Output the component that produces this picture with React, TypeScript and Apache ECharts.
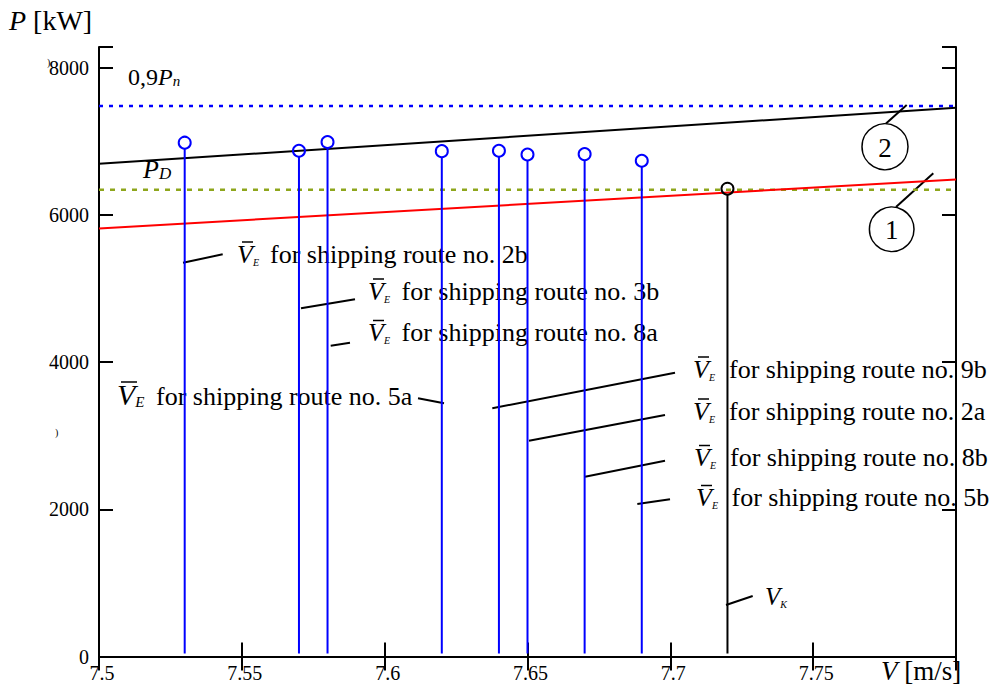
import React, { useEffect, useRef } from 'react';
import * as echarts from 'echarts';

// ---------- data ----------
const X_MIN = 7.5;
const X_MAX = 7.8;
const X_STEP = 0.05;
const Y_MIN = 0;
const Y_MAX = 8280;
const Y_STEP = 2000;

const routeSpeeds = [7.53, 7.57, 7.58, 7.62, 7.64, 7.65, 7.67, 7.69];
const routePowers = [6980, 6870, 6990, 6865, 6870, 6820, 6825, 6735];
const vkSpeeds = [7.72];
const vkPowers = [6355];
const curveSpeeds = [7.5, 7.8];
const curve1Powers = [5816, 6481];
const curve2Powers = [6693, 7455];
const pnLevel = [7480];
const pdLevel = [6340];
const routeNames = ['2b', '3b', '8a', '5a', '9b', '2a', '8b', '5b'];

// ---------- annotation layout (pixels) ----------
const SERIF = '"Liberation Serif", "Times New Roman", serif';
const routeLayout = [
  { vx: 237, tx: 270, base: 263, big: false, lead: [183, 262.7, 222.7, 254.3] },
  { vx: 368, tx: 401.5, base: 300, big: false, lead: [301, 308.3, 355, 299.3] },
  { vx: 368, tx: 401.5, base: 341.5, big: false, lead: [330.7, 345.7, 350, 342.7] },
  { vx: 117, tx: 156, base: 405, big: true, lead: [418, 398.3, 444, 403.3] },
  { vx: 693, tx: 729, base: 378, big: false, lead: [492.3, 408.3, 675, 372.7] },
  { vx: 693, tx: 729, base: 420, big: false, lead: [529, 440.7, 665, 415] },
  { vx: 694, tx: 730, base: 466.5, big: false, lead: [585, 476.7, 665, 460.7] },
  { vx: 696, tx: 731.5, base: 506.5, big: false, lead: [637.3, 504, 670, 499.3] },
];

type Tok = { t: string; fs: number; it?: boolean; sub?: boolean };

// one text element: main tokens share a baseline, subscript tokens drop by `drop` px
function richText(x: number, base: number, F: number, drop: number, toks: Tok[]) {
  const pb = Math.max(0, drop - 0.16 * F + 0.16 * Math.min(...toks.filter((k) => k.sub).map((k) => k.fs).concat([F])));
  const rich: any = {};
  const text = toks
    .map((k, i) => {
      const key = 'k' + i;
      rich[key] = {
        fontSize: k.fs,
        fontFamily: SERIF,
        fontStyle: k.it ? 'italic' : 'normal',
        fill: '#000',
        lineHeight: k.fs,
        verticalAlign: k.sub ? 'bottom' : 'top',
        padding: k.sub ? [0, 0, 0, 0] : [0, 0, pb, 0],
      };
      return `{${key}|${k.t}}`;
    })
    .join('');
  return {
    type: 'text',
    x,
    y: base - 0.84 * F,
    silent: true,
    z: 1,
    style: {
      text,
      rich,
      font: `${F}px ${SERIF}`,
      fill: '#000',
      textAlign: 'left',
      textVerticalAlign: 'top',
    },
  };
}

function txt(x: number, base: number, text: string, fs: number, italic = false) {
  return {
    type: 'text',
    x,
    y: base - 0.34 * fs,
    silent: true,
    z: 1,
    style: {
      text,
      font: `${italic ? 'italic ' : ''}${fs}px ${SERIF}`,
      fill: '#000',
      textAlign: 'left',
      textVerticalAlign: 'middle',
    },
  };
}

function seg(x1: number, y1: number, x2: number, y2: number, w = 2) {
  return {
    type: 'line',
    silent: true,
    z: 1,
    shape: { x1, y1, x2, y2 },
    style: { stroke: '#000', lineWidth: w },
  };
}

function ring(cx: number, cy: number, r: number, label: string) {
  return [
    {
      type: 'circle',
      silent: true,
      z: 1,
      shape: { cx, cy, r },
      style: { fill: 'none', stroke: '#000', lineWidth: 1.5 },
    },
    {
      type: 'text',
      x: cx,
      y: cy + 1,
      silent: true,
      z: 1,
      style: {
        text: label,
        font: `27px ${SERIF}`,
        fill: '#000',
        textAlign: 'center',
        textVerticalAlign: 'middle',
      },
    },
  ];
}

function buildGraphics() {
  const g: any[] = [];
  routeLayout.forEach((L, i) => {
    if (L.big) {
      g.push(richText(L.vx, L.base, 30, 6, [
        { t: 'V', fs: 30, it: true },
        { t: 'E', fs: 15, it: true, sub: true },
      ]));
      g.push(seg(L.vx + 4, L.base - 23, L.vx + 20, L.base - 23, 1.5));
    } else {
      g.push(richText(L.vx, L.base, 26, 4, [
        { t: 'V', fs: 26, it: true },
        { t: 'E', fs: 10, it: true, sub: true },
      ]));
      g.push(seg(L.vx + 5, L.base - 21, L.vx + 16, L.base - 21, 1.5));
    }
    g.push(txt(L.tx, L.base, `for shipping route no. ${routeNames[i]}`, 26));
    g.push(seg(L.lead[0], L.lead[1], L.lead[2], L.lead[3]));
  });
  // V_K
  g.push(richText(765, 605, 25, 8, [
    { t: 'V', fs: 25, it: true },
    { t: 'K', fs: 10, it: true, sub: true },
  ]));
  g.push(seg(726, 605, 752.7, 596));
  // P_D
  g.push(richText(143, 178, 26, 7, [
    { t: 'P', fs: 26, it: true },
    { t: 'D', fs: 17, it: true, sub: true },
  ]));
  // 0,9 P_n
  g.push(richText(128, 85, 24, 5, [
    { t: '0,9', fs: 24 },
    { t: 'P', fs: 24, it: true },
    { t: 'n', fs: 15, it: true, sub: true },
  ]));
  // axis titles
  g.push(richText(9, 30, 28, 0, [
    { t: 'P', fs: 28, it: true },
    { t: ' [kW]', fs: 28 },
  ]));
  g.push(richText(881, 680, 27, 0, [
    { t: 'V', fs: 27, it: true },
    { t: ' [m/s]', fs: 27 },
  ]));
  // curve markers
  g.push(...ring(885, 146.7, 23, '2'));
  g.push(seg(886, 123.5, 906.7, 105));
  g.push(...ring(891.7, 229.3, 22.3, '1'));
  g.push(seg(896, 207, 933.3, 173.3));
  // stray marks
  g.push(txt(47, 66, ')', 10));
  g.push(txt(55, 436, ')', 10));
  return g;
}

function stemSeries(name: string, xs: number[], ys: number[], color: string) {
  return {
    name,
    type: 'custom',
    silent: true,
    z: 3,
    data: xs.map((x, i) => [x, ys[i]]),
    renderItem: (_params: any, api: any) => {
      const p = api.coord([api.value(0), api.value(1)]);
      const b = api.coord([api.value(0), 0]);
      const r = 6;
      return {
        type: 'group',
        children: [
          {
            type: 'line',
            shape: { x1: p[0], y1: p[1] + r, x2: p[0], y2: b[1] - 3 },
            style: { stroke: color, lineWidth: 2 },
          },
          {
            type: 'circle',
            shape: { cx: p[0], cy: p[1], r },
            style: { fill: 'none', stroke: color, lineWidth: 2 },
          },
        ],
      };
    },
  };
}

function lineSeries(name: string, data: number[][], color: string, width: number, type: any) {
  return {
    name,
    type: 'line',
    silent: true,
    symbol: 'none',
    z: 2,
    data,
    lineStyle: { color, width, type },
  };
}

const fmtX = (v: number) => {
  if (Math.abs(v - X_MAX) < 1e-9) return '';
  return String(parseFloat(v.toFixed(2)));
};
const fmtY = (v: number) => (Math.abs(v % Y_STEP) < 1e-9 ? String(v) : '');

export default function App() {
  const ref = useRef<HTMLDivElement>(null);
  useEffect(() => {
    if (!ref.current) return;
    const chart = echarts.init(ref.current, undefined, { renderer: 'svg' });
    const axisLine = { show: true, lineStyle: { color: '#000', width: 2 } };
    const axisTick = { show: true, inside: true, length: 14, lineStyle: { color: '#000', width: 2 } };
    const labelFont = { fontFamily: SERIF, fontSize: 20, color: '#000' };
    chart.setOption({
      animation: false,
      backgroundColor: '#fff',
      grid: { left: 99, right: 44, top: 47, bottom: 32.5, containLabel: false },
      xAxis: [
        {
          type: 'value', min: X_MIN, max: X_MAX, interval: X_STEP, position: 'bottom',
          axisLine, axisTick, splitLine: { show: false },
          axisLabel: { ...labelFont, margin: 6, padding: [0, 0, 0, 6], formatter: fmtX },
        },
        {
          type: 'value', min: X_MIN, max: X_MAX, interval: X_STEP, position: 'top',
          axisLine, axisTick, splitLine: { show: false }, axisLabel: { show: false },
        },
      ],
      yAxis: [
        {
          type: 'value', min: Y_MIN, max: Y_MAX, interval: Y_STEP, position: 'left',
          axisLine, axisTick, splitLine: { show: false },
          axisLabel: { ...labelFont, margin: 10, formatter: fmtY },
        },
        {
          type: 'value', min: Y_MIN, max: Y_MAX, interval: Y_STEP, position: 'right',
          axisLine, axisTick, splitLine: { show: false }, axisLabel: { show: false },
        },
      ],
      series: [
        lineSeries('0,9Pn', curveSpeeds.map((x) => [x, pnLevel[0]]), '#0000ff', 2.5, [4, 6]),
        lineSeries('PD', curveSpeeds.map((x) => [x, pdLevel[0]]), '#8ea61c', 2.5, [5, 6]),
        lineSeries('curve 2', curveSpeeds.map((x, i) => [x, curve2Powers[i]]), '#000000', 2, 'solid'),
        lineSeries('curve 1', curveSpeeds.map((x, i) => [x, curve1Powers[i]]), '#ff0000', 2, 'solid'),
        stemSeries('V_E', routeSpeeds, routePowers, '#0000ff'),
        stemSeries('V_K', vkSpeeds, vkPowers, '#000000'),
      ],
      graphic: buildGraphics(),
    });
    return () => chart.dispose();
  }, []);
  return (
    <div
      ref={ref}
      style={{ position: 'absolute', left: 0, top: 0, width: 1000, height: 689, background: '#fff' }}
    />
  );
}
